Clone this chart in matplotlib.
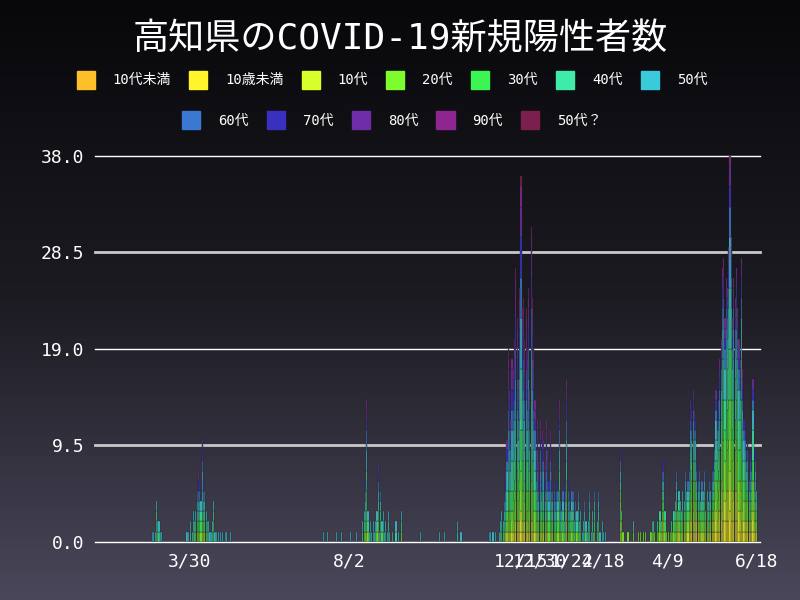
import matplotlib
matplotlib.use("Agg")
import matplotlib.pyplot as plt
import numpy as np
import datetime as dt
from matplotlib.colors import LinearSegmentedColormap
from matplotlib.patches import Patch

FONT = ['DejaVu Sans Mono', 'Noto Sans CJK JP']
plt.rcParams['font.family'] = FONT

groups = ['10代未満', '10歳未満', '10代', '20代', '30代', '40代', '50代',
          '60代', '70代', '80代', '90代', '50代？']
colors = ['#ffbf2a', '#fff52a', '#d9ff2a', '#7dfc2e', '#3cf552', '#3eeba8', '#3acbdb',
          '#3a78d2', '#3a30c0', '#6e2ca8', '#8e2590', '#7a1f4e']

origin = dt.date(2020, 2, 28)

# daily totals per wave (start day index from origin, counts)
w0_start = 2
w0 = [1, 1, 1, 4, 2, 2, 1, 1]
w1_start = 29
w1 = [1, 1, 0, 2, 1, 3, 2, 3, 5, 7, 6, 4, 10, 6, 5, 3, 2, 2, 1, 1, 2, 4, 1, 1, 0, 1, 1, 0, 1, 0, 1, 1, 0, 0, 1]
w2_start = 136
w2 = [1, 0, 0, 1, 0, 0, 0, 0, 0, 0, 1, 0, 0, 0, 1, 0, 0, 0, 0, 0, 0, 1, 0, 0, 0, 0, 1, 0, 0, 0, 0,
      2, 3, 6, 14, 3, 1, 2, 1, 2, 1, 2, 3, 8, 1, 5, 2, 3, 1, 2, 1, 3, 1, 0, 1, 0, 0, 2, 0, 1, 0, 3,
      0, 0, 0, 0, 0, 0, 0, 0, 0, 0, 0, 0, 0, 0, 1, 0, 0, 0, 0, 0, 0, 0, 0, 0, 0, 0, 0, 0, 0, 1,
      0, 0, 0, 1, 0, 0, 0, 0, 0, 0, 0, 0, 0, 2, 0, 0, 1]
w3_start = 266
w3 = [1, 1, 0, 1, 0, 1, 0, 0, 1, 2, 3, 2, 4, 7, 10, 19, 15, 12, 18, 17, 20, 27, 22, 16, 25, 36,
      23, 24, 20, 23, 19, 25, 15, 31, 24, 19, 14, 9, 12, 8, 12, 7, 11, 10, 8, 12, 9, 6, 11, 7,
      6, 5, 4, 6, 5, 14, 4, 3, 5, 2, 6, 16, 6, 4, 3, 5, 5, 2, 4, 3, 5, 2, 3, 1, 2, 4, 2, 1, 2,
      5, 1, 3, 1, 5, 0, 2, 5, 1, 0, 2, 1, 1]
w4_start = 369
w4 = [9, 3, 1, 0, 0, 0, 1, 0, 0, 0, 2, 0, 0, 0, 1, 0, 1, 0, 1, 0, 1, 0, 0, 0, 1, 2, 2, 1, 0, 2,
      1, 3, 2, 8, 8, 3, 1, 0, 1, 1, 2, 1, 3, 4, 7, 3, 5, 4, 3, 5, 4, 7, 5, 6, 7, 14, 13, 15, 13,
      12, 8, 6, 7, 4, 6, 5, 7, 3, 5, 4, 6, 5, 7, 8, 10, 15, 12, 14, 18, 20, 27, 28, 22, 26, 25,
      29, 38, 30, 22, 26, 24, 27, 23, 20, 18, 28, 17, 12, 11, 9, 10, 6, 9, 8, 16, 6, 9, 5]

share_2020 = [0, 0.03, 0.05, 0.13, 0.12, 0.16, 0.16, 0.12, 0.10, 0.08, 0.05, 0]
share_winter = [0, 0.03, 0.05, 0.12, 0.11, 0.15, 0.15, 0.12, 0.10, 0.09, 0.05, 0.03]
share_2021 = [0, 0.07, 0.11, 0.18, 0.14, 0.16, 0.13, 0.08, 0.06, 0.04, 0.03, 0]

tick_dates = ['2020-03-30', '2020-08-02', '2020-12-15', '2020-12-30',
              '2021-01-24', '2021-02-18', '2021-04-09', '2021-06-18']
tick_labels = ['3/30', '8/2', '12/15', '12/30', '1/24', '2/18', '4/9', '6/18']

ndays = 480
counts = np.zeros((len(groups), ndays))


def split(total, shares):
    s = np.array(shares) * total
    base = np.floor(s).astype(int)
    rem = total - base.sum()
    order = np.argsort(-(s - base))
    for i in order[:rem]:
        base[i] += 1
    return base


for start, vals, sh in [(w0_start, w0, share_2020), (w1_start, w1, share_2020),
                        (w2_start, w2, share_2020), (w3_start, w3, share_winter),
                        (w4_start, w4, share_2021)]:
    for i, v in enumerate(vals):
        counts[:, start + i] = split(v, sh)

fig = plt.figure(figsize=(8, 6), dpi=100)
bg = fig.add_axes([0, 0, 1, 1], zorder=-10)
grad = np.linspace(0, 1, 256)[:, None]
cmap = LinearSegmentedColormap.from_list('bg', ['#08080b', '#1c1b22', '#4a475a'])
bg.imshow(grad, aspect='auto', cmap=cmap, extent=[0, 1, 0, 1], origin='upper')
bg.axis('off')

ax = fig.add_axes([0.119, 0.097, 0.831, 0.643])
ax.patch.set_alpha(0)
x = np.arange(ndays)
bottom = np.zeros(ndays)
for gi in range(len(groups)):
    m = counts[gi] > 0
    ax.bar(x[m], counts[gi][m], bottom=bottom[m], width=0.9, color=colors[gi],
           edgecolor='#222228', linewidth=0.25, zorder=3)
    bottom += counts[gi]

yt = [0, 9.5, 19, 28.5, 38]
ax.set_ylim(0, 38)
ax.set_yticks(yt)
ax.set_yticklabels([f'{v:.1f}' for v in yt])
for v in yt:
    ax.axhline(v, color='#ffffff' if v in (0, 19, 38) else '#c8c8c8',
               lw=1.0 if v in (0, 19, 38) else 2.0, zorder=2, clip_on=False)
ax.set_xlim(-43, 478.5)
tpos = [(dt.date.fromisoformat(d) - origin).days for d in tick_dates]
ax.set_xticks(tpos)
ax.set_xticklabels(tick_labels)
ax.tick_params(colors='white', labelsize=13, length=0, pad=8)
for s in ax.spines.values():
    s.set_visible(False)

fig.text(0.5, 0.935, '高知県のCOVID-19新規陽性者数', color='white', fontsize=26,
         ha='center', va='center', family=FONT)

h = [Patch(color=c) for c in colors]
kw = dict(frameon=False, fontsize=10, labelcolor='white', handlelength=1.3,
          handleheight=1.6, columnspacing=1.3, handletextpad=1.3)
fig.legend(h[:7], groups[:7], loc='center', bbox_to_anchor=(0.49, 0.867), ncol=7, **kw)
fig.legend(h[7:], groups[7:], loc='center', bbox_to_anchor=(0.49, 0.8), ncol=5, **kw)
fig.savefig('out.png', dpi=100)
